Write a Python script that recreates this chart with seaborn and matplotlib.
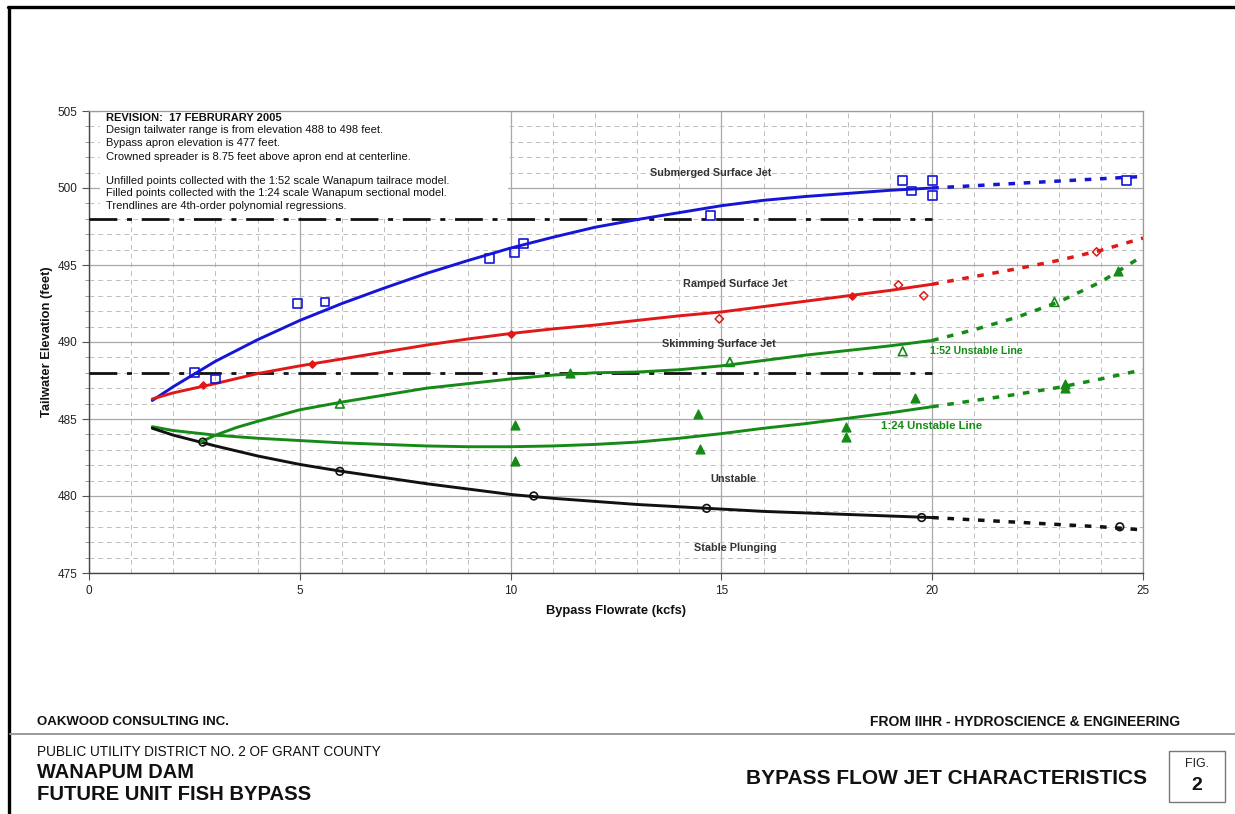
import matplotlib
matplotlib.use("Agg")
import matplotlib.pyplot as plt
import seaborn as sns
from matplotlib.lines import Line2D
from matplotlib.patches import Rectangle
from matplotlib.ticker import MultipleLocator

# ---------------- data ----------------
# 1:52 model observations (unfilled) and 1:24 observations (filled)
sub_x = [2.5, 3.0, 4.95, 5.6, 9.5, 10.1, 10.3, 14.75, 19.3, 19.5, 20.0, 20.0, 24.6]
sub_y = [488.0, 487.6, 492.5, 492.6, 495.4, 495.8, 496.4, 498.2, 500.5, 499.8, 500.5, 499.5, 500.5]

ramp_open_x = [14.95, 19.2, 19.8, 23.9]
ramp_open_y = [491.5, 493.7, 493.0, 495.85]
ramp_fill_x = [2.7, 5.3, 10.0, 18.1]
ramp_fill_y = [487.2, 488.6, 490.5, 493.0]

skim_open_x = [5.95, 15.2, 19.3, 22.9]
skim_open_y = [486.0, 488.7, 489.4, 492.6]
skim_fill_x = [11.4, 24.4]
skim_fill_y = [488.0, 494.6]

unst_fill_x = [10.1, 10.1, 14.45, 14.5, 17.95, 17.95, 19.6, 23.15, 23.15]
unst_fill_y = [484.6, 482.3, 485.3, 483.05, 484.5, 483.8, 486.35, 487.3, 487.0]

plunge_x = [2.7, 5.95, 10.55, 14.65, 19.75, 24.45]
plunge_y = [483.5, 481.6, 480.0, 479.2, 478.6, 478.0]

# trendlines (solid part up to 20 kcfs, dashed beyond)
trend_x = [1.5, 2, 3, 4, 5, 6, 7, 8, 9, 10, 11, 12, 13, 14, 15, 16, 17, 18, 19, 20]
blue_ty = [486.2, 487.1, 488.75, 490.15, 491.4, 492.5, 493.5, 494.45, 495.3, 496.1,
           496.8, 497.45, 497.95, 498.4, 498.85, 499.2, 499.45, 499.65, 499.85, 500.0]
red_ty = [486.3, 486.7, 487.3, 487.95, 488.45, 488.9, 489.35, 489.8, 490.2, 490.55,
          490.85, 491.1, 491.4, 491.7, 491.95, 492.3, 492.65, 493.0, 493.35, 493.75]
green_lo_ty = [484.5, 484.25, 483.95, 483.75, 483.6, 483.45, 483.35, 483.25, 483.2, 483.2,
               483.25, 483.35, 483.5, 483.75, 484.05, 484.4, 484.7, 485.05, 485.4, 485.8]
black_ty = [484.4, 483.95, 483.25, 482.6, 482.05, 481.6, 481.2, 480.8, 480.45, 480.1,
            479.85, 479.65, 479.45, 479.3, 479.15, 479.0, 478.9, 478.8, 478.7, 478.6]
green_up_x = [2.64, 3, 3.5, 4, 5, 6, 7, 8, 9, 10, 11, 12, 13, 14, 15, 16, 17, 18, 19, 20]
green_up_ty = [483.5, 483.95, 484.45, 484.85, 485.6, 486.1, 486.55, 487.0, 487.3, 487.6,
               487.85, 488.0, 488.05, 488.2, 488.45, 488.8, 489.15, 489.45, 489.75, 490.1]

ext_x = [20, 21, 22, 23, 24, 25]
blue_ey = [500.0, 500.15, 500.3, 500.45, 500.6, 500.75]
red_ey = [493.75, 494.25, 494.75, 495.3, 495.95, 496.75]
green_up_ey = [490.1, 490.8, 491.6, 492.6, 493.9, 495.6]
green_lo_ey = [485.8, 486.2, 486.6, 487.05, 487.6, 488.2]
black_ey = [478.6, 478.45, 478.3, 478.15, 478.0, 477.8]

design_range = [488, 498]
design_x = [0, 20]

x_ticks = [0, 5, 10, 15, 20, 25]
y_ticks = [475, 480, 485, 490, 495, 500, 505]

notes = [
    "Design tailwater range is from elevation 488 to 498 feet.",
    "Bypass apron elevation is 477 feet.",
    "Crowned spreader is 8.75 feet above apron end at centerline.",
    "",
    "Unfilled points collected with the 1:52 scale Wanapum tailrace model.",
    "Filled points collected with the 1:24 scale Wanapum sectional model.",
    "Trendlines are 4th-order polynomial regressions.",
]

# ---------------- style ----------------
sns.set_style("white")
plt.rcParams["font.family"] = ["Liberation Sans", "DejaVu Sans"]

BLUE = "#1515d8"
RED = "#e01818"
GREEN = "#168a16"
BLACK = "#111111"

fig = plt.figure(figsize=(12.35, 8.14), dpi=100)
ax = fig.add_axes([89 / 1235, 1 - 573 / 814, (1143 - 89) / 1235, (573 - 111) / 814])

ax.set_xlim(0, 25)
ax.set_ylim(475, 505)
ax.set_xticks(x_ticks)
ax.set_yticks(y_ticks)
ax.xaxis.set_minor_locator(MultipleLocator(1))
ax.yaxis.set_minor_locator(MultipleLocator(1))
ax.grid(which="major", color="#a8a8a8", lw=0.9, ls="-", zorder=0)
ax.grid(which="minor", color="#bdbdbd", lw=0.7, ls=(0, (5, 4)), zorder=0)
ax.set_axisbelow(True)
ax.tick_params(axis="both", which="major", direction="out", length=5, width=0.8,
               color="#555555", labelsize=8.5, labelcolor="#222222", left=True, bottom=True)
ax.tick_params(axis="y", which="minor", direction="out", length=3, width=0.6,
               color="#888888", left=True)
ax.tick_params(axis="x", which="minor", length=0)
for side in ["left", "bottom"]:
    ax.spines[side].set_color("#444444")
    ax.spines[side].set_linewidth(1.0)
for side in ["top", "right"]:
    ax.spines[side].set_color("#9a9a9a")
    ax.spines[side].set_linewidth(0.9)

# white notes box masking the grid
ax.add_patch(Rectangle((0.25, 498.1), 9.7, 6.85, facecolor="white", edgecolor="none", zorder=1))

# design tailwater range lines
for yv in design_range:
    sns.lineplot(x=design_x, y=[yv, yv], ax=ax, color=BLACK, lw=2.0,
                 linestyle=(0, (10, 3.5, 1.8, 3.5)), zorder=3)

LW = 2.1
DASH = (0, (1.9, 2.5))
for ty, ey, col in [(blue_ty, blue_ey, BLUE), (red_ty, red_ey, RED),
                    (green_lo_ty, green_lo_ey, GREEN), (black_ty, black_ey, BLACK)]:
    sns.lineplot(x=trend_x, y=ty, ax=ax, color=col, lw=LW, sort=False, estimator=None, zorder=4)
    sns.lineplot(x=ext_x, y=ey, ax=ax, color=col, lw=LW + 0.4, linestyle=DASH,
                 sort=False, estimator=None, zorder=4)
sns.lineplot(x=green_up_x, y=green_up_ty, ax=ax, color=GREEN, lw=LW, sort=False,
             estimator=None, zorder=4)
sns.lineplot(x=ext_x, y=green_up_ey, ax=ax, color=GREEN, lw=LW + 0.4, linestyle=DASH,
             sort=False, estimator=None, zorder=4)

# observation markers
sns.scatterplot(x=sub_x, y=sub_y, ax=ax, marker="s", s=40, facecolor="none",
                edgecolor=BLUE, linewidth=1.2, zorder=5)
sns.scatterplot(x=ramp_open_x, y=ramp_open_y, ax=ax, marker="D", s=18, facecolor="none",
                edgecolor=RED, linewidth=1.1, zorder=5)
sns.scatterplot(x=ramp_fill_x, y=ramp_fill_y, ax=ax, marker="D", s=14, facecolor=RED,
                edgecolor=RED, linewidth=1.0, zorder=5)
sns.scatterplot(x=skim_open_x, y=skim_open_y, ax=ax, marker="^", s=40, facecolor="none",
                edgecolor=GREEN, linewidth=1.2, zorder=5)
sns.scatterplot(x=skim_fill_x, y=skim_fill_y, ax=ax, marker="^", s=40, facecolor=GREEN,
                edgecolor=GREEN, linewidth=1.0, zorder=5)
sns.scatterplot(x=unst_fill_x, y=unst_fill_y, ax=ax, marker="^", s=40, facecolor=GREEN,
                edgecolor=GREEN, linewidth=1.0, zorder=5)
sns.scatterplot(x=plunge_x, y=plunge_y, ax=ax, marker="o", s=30, facecolor="none",
                edgecolor=BLACK, linewidth=1.2, zorder=5)

# notes
ax.text(0.4, 504.55, "REVISION:  17 FEBRURARY 2005", fontsize=8, fontweight="bold",
        color="#111111", va="center", ha="left", zorder=6)
note_y = [503.77, 502.92, 502.02, 501.2, 500.45, 499.68, 498.83]
for t, yv in zip(notes, note_y):
    if t:
        ax.text(0.4, yv, t, fontsize=8, color="#111111", va="center", ha="left", zorder=6)

# region labels
lab_kw = dict(fontsize=7.8, fontweight="bold", color="#333333", ha="center", va="center", zorder=6)
ax.text(14.75, 500.97, "Submerged Surface Jet", **lab_kw)
ax.text(15.33, 493.77, "Ramped Surface Jet", **lab_kw)
ax.text(14.95, 489.87, "Skimming Surface Jet", **lab_kw)
ax.text(15.28, 481.1, "Unstable", **lab_kw)
ax.text(15.32, 476.6, "Stable Plunging", **lab_kw)
ax.text(19.95, 489.4, "1:52 Unstable Line", fontsize=7.6, fontweight="bold", color=GREEN,
        ha="left", va="center", zorder=6)
ax.text(18.79, 484.55, "1:24 Unstable Line", fontsize=8.2, fontweight="bold", color=GREEN,
        ha="left", va="center", zorder=6)

ax.set_xlabel("Bypass Flowrate (kcfs)", fontsize=9.3, fontweight="bold", color="#111111", labelpad=6)
ax.set_ylabel("Tailwater Elevation (feet)", fontsize=9.3, fontweight="bold", color="#111111", labelpad=3)

# ---------------- title block ----------------
def fx(px):
    return px / 1235


def fy(py):
    return 1 - py / 814


fig.add_artist(Line2D([fx(8), 1.0], [fy(7), fy(7)], color="black", lw=2.4))
fig.add_artist(Line2D([fx(9), fx(9)], [fy(7), 0.0], color="black", lw=2.4))
fig.add_artist(Line2D([fx(10), 1.0], [fy(734), fy(734)], color="#9a9a9a", lw=1.4))

fig.text(fx(37), fy(722), "OAKWOOD CONSULTING INC.", fontsize=9.5, fontweight="bold",
         ha="left", va="center", color="#111111")
fig.text(fx(1180), fy(722), "FROM IIHR - HYDROSCIENCE & ENGINEERING", fontsize=10,
         fontweight="bold", ha="right", va="center", color="#111111")
fig.text(fx(37), fy(752), "PUBLIC UTILITY DISTRICT NO. 2 OF GRANT COUNTY", fontsize=9.8,
         ha="left", va="center", color="#111111")
fig.text(fx(37), fy(773), "WANAPUM DAM", fontsize=14.4, fontweight="bold",
         ha="left", va="center", color="#111111")
fig.text(fx(37), fy(794), "FUTURE UNIT FISH BYPASS", fontsize=14.6, fontweight="bold",
         ha="left", va="center", color="#111111")
fig.text(fx(947), fy(779), "BYPASS FLOW JET CHARACTERISTICS", fontsize=15, fontweight="bold",
         ha="center", va="center", color="#111111")
fig.add_artist(Rectangle((fx(1169), fy(802)), fx(1225) - fx(1169), fy(751) - fy(802),
                         facecolor="none", edgecolor="#777777", lw=1.0))
fig.text(fx(1197), fy(764), "FIG.", fontsize=9, ha="center", va="center", color="#222222")
fig.text(fx(1197), fy(785), "2", fontsize=14, fontweight="bold", ha="center", va="center",
         color="#111111")

fig.savefig("out.png", dpi=100)
